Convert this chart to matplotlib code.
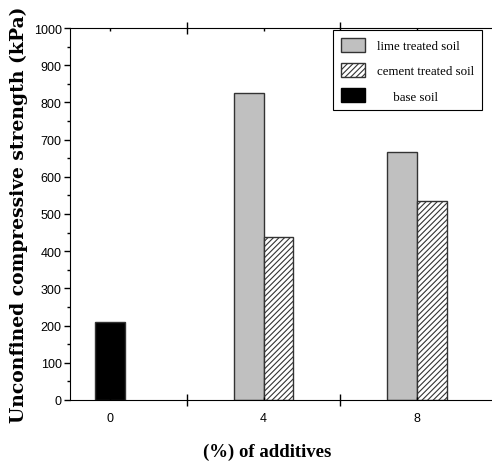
import matplotlib.pyplot as plt
import numpy as np
from matplotlib.patches import Patch

plt.rcParams['hatch.linewidth'] = 0.8

additives = [0, 4, 8]
base_soil = [210]
lime_soil = [826, 668]
cement_soil = [438, 535]

width = 0.78
fig = plt.figure(figsize=(4.92, 4.64), dpi=100)
ax = fig.add_axes([70 / 492, 63 / 464, 1 - 70 / 492, 372 / 464])

ax.bar([0], base_soil, width, color='black', edgecolor='#333333', linewidth=1)
ax.bar(np.array(additives[1:]) - width / 2, lime_soil, width,
       color='#c0c0c0', edgecolor='#333333', linewidth=1)
ax.bar(np.array(additives[1:]) + width / 2, cement_soil, width,
       color='white', edgecolor='#333333', linewidth=1, hatch='//////')

ax.set_xlim(-1.04, 9.95)
ax.set_ylim(0, 1000)
ax.spines['right'].set_visible(False)

tick_font = {'family': ['Liberation Sans Narrow', 'Liberation Sans'], 'size': 9}
ax.set_yticks(np.arange(0, 1001, 100))
ax.set_yticks(np.arange(0, 1001, 50), minor=True)
ax.set_yticklabels([str(v) for v in range(0, 1001, 100)], fontdict=tick_font)
ax.tick_params(axis='y', which='major', direction='out', length=4, width=1, pad=2)
ax.tick_params(axis='y', which='minor', direction='out', length=2.5, width=1)

ax.set_xticks(additives)
ax.set_xticklabels([str(v) for v in additives], fontdict=tick_font)
ax.set_xticks([2, 6], minor=True)
ax.tick_params(axis='x', which='major', direction='in', length=2, width=1, pad=9)
ax.tick_params(axis='x', which='minor', direction='inout', length=8, width=1,
               top=True)
ax.tick_params(axis='x', which='major', top=True)

ax.set_xlabel('(%) of additives', family='Liberation Serif', fontsize=13.5,
              fontweight='bold', labelpad=14)
ax.xaxis.set_label_coords(0.467, -0.115)
ax.set_ylabel('Unconfined compressive strength (kPa)', family='DejaVu Serif',
              fontsize=13.5, fontweight='bold', labelpad=4)

handles = [Patch(facecolor='#c0c0c0', edgecolor='#333333'),
           Patch(facecolor='white', edgecolor='#333333', hatch='//////'),
           Patch(facecolor='black', edgecolor='black')]
labels = ['lime treated soil', 'cement treated soil', '     base soil']
leg = ax.legend(handles, labels, loc='upper right', bbox_to_anchor=(0.976, 0.995),
                borderaxespad=0, prop={'family': 'Liberation Serif', 'size': 9.3},
                fancybox=False, edgecolor='black', framealpha=1,
                handlelength=1.9, handleheight=1.3, borderpad=0.6,
                labelspacing=0.85, handletextpad=0.9)
leg.get_frame().set_linewidth(0.8)

fig.savefig('out.png', dpi=100)
